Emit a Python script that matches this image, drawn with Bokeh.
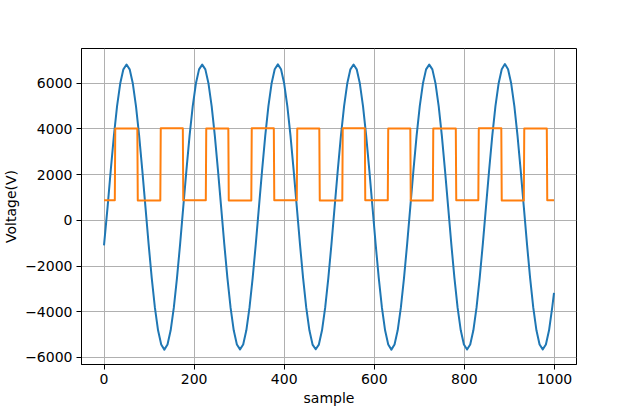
from bokeh.plotting import figure
from bokeh.models import Range1d
from bokeh.embed import file_html
from bokeh.resources import INLINE

# ---- data ----
sample_x = [
    0, 8, 15, 22, 29, 36, 43, 50, 57, 64, 71, 78, 85, 92, 99, 106, 113, 120, 127, 134, 141, 148, 155, 162,
    169, 176, 183, 190, 197, 204, 211, 218, 225, 232, 239, 246, 253, 260, 267, 274, 281, 288, 295, 302, 309, 316, 323, 330,
    337, 344, 351, 358, 365, 372, 379, 386, 393, 400, 407, 414, 421, 428, 435, 442, 449, 456, 463, 470, 477, 484, 491, 498,
    505, 512, 519, 526, 533, 540, 547, 554, 561, 568, 575, 582, 589, 596, 603, 610, 617, 624, 631, 638, 645, 652, 659, 666,
    673, 680, 687, 694, 701, 708, 715, 722, 729, 736, 743, 750, 757, 764, 771, 778, 785, 792, 799, 806, 813, 820, 827, 834,
    841, 848, 855, 862, 869, 876, 883, 890, 897, 904, 911, 918, 925, 932, 939, 946, 953, 960, 967, 974, 981, 988, 995, 999,
]
sine_voltage = [
    -1100, 585, 2199, 3703, 4994, 5985, 6608, 6820, 6608, 5985, 4994, 3703, 2199, 585, -1029, -2533, -3824, -4815, -5438, -5660, -5438, -4815, -3824, -2533,
    -1029, 585, 2199, 3703, 4994, 5985, 6605, 6815, 6605, 5985, 4994, 3703, 2199, 585, -1029, -2533, -3824, -4815, -5438, -5650, -5438, -4815, -3824, -2533,
    -1029, 585, 2199, 3703, 4994, 5985, 6610, 6825, 6610, 5985, 4994, 3703, 2199, 585, -1029, -2533, -3824, -4815, -5438, -5645, -5438, -4815, -3824, -2533,
    -1029, 585, 2199, 3703, 4994, 5985, 6608, 6820, 6608, 5985, 4994, 3703, 2199, 585, -1029, -2533, -3824, -4815, -5438, -5660, -5438, -4815, -3824, -2533,
    -1029, 585, 2199, 3703, 4994, 5985, 6605, 6815, 6605, 5985, 4994, 3703, 2199, 585, -1029, -2533, -3824, -4815, -5438, -5655, -5438, -4815, -3824, -2533,
    -1029, 585, 2199, 3703, 4994, 5985, 6615, 6840, 6615, 5985, 4994, 3703, 2199, 585, -1029, -2533, -3824, -4815, -5438, -5650, -5438, -4815, -3824, -3180,
]
square_x = [
    0, 24, 25, 74, 75, 125, 126, 175, 176, 226, 227, 276, 277, 327, 328, 377, 378, 428, 429, 478, 479,
    529, 530, 579, 580, 630, 631, 680, 681, 730, 731, 781, 782, 831, 832, 882, 883, 932, 933, 983, 984, 999,
]
square_voltage = [
    877, 877, 4020, 4020, 870, 870, 4025, 4025, 875, 875, 4015, 4015, 872, 872, 4030, 4030, 878, 878, 4020, 4020, 870,
    870, 4025, 4025, 875, 875, 4020, 4020, 872, 872, 4015, 4015, 877, 877, 4025, 4025, 870, 870, 4020, 4020, 875, 875,
]
x_ticks = [0, 200, 400, 600, 800, 1000]
y_ticks = [-6000, -4000, -2000, 0, 2000, 4000, 6000]
y_tick_labels = ["\u22126000", "\u22124000", "\u22122000", "0", "2000", "4000", "6000"]

FONT = "DejaVu Sans"

p = figure(
    width=640, height=409, output_backend="svg", toolbar_location=None,
    x_range=Range1d(-49.95, 1048.95), y_range=Range1d(-6310, 7520),
    min_border_left=80, min_border_right=64, min_border_top=48, min_border_bottom=45,
)
p.background_fill_color = "white"
p.border_fill_color = "white"
p.outline_line_color = "black"
p.outline_line_width = 1

p.line(sample_x, sine_voltage, line_color="#1f77b4", line_width=2, line_join="round")
p.line(square_x, square_voltage, line_color="#ff7f0e", line_width=2, line_join="round")

p.xaxis.ticker = x_ticks
p.yaxis.ticker = y_ticks
p.yaxis.major_label_overrides = dict(zip(y_ticks, y_tick_labels))
p.xaxis.axis_label = "sample"
p.yaxis.axis_label = "Voltage(V)"

for ax in (p.xaxis[0], p.yaxis[0]):
    ax.major_tick_out = 5
    ax.major_tick_in = 0
    ax.minor_tick_out = 0
    ax.minor_tick_in = 0
    ax.axis_line_color = "black"
    ax.major_tick_line_color = "black"
    ax.major_label_text_font = FONT
    ax.major_label_text_font_size = "14px"
    ax.major_label_text_color = "black"
    ax.major_label_standoff = 4
    ax.axis_label_text_font = FONT
    ax.axis_label_text_font_size = "14px"
    ax.axis_label_text_font_style = "normal"
    ax.axis_label_text_color = "black"
    ax.axis_label_standoff = 3

for g in (p.xgrid[0], p.ygrid[0]):
    g.grid_line_color = "#b0b0b0"
    g.grid_line_width = 1

open("out.html", "w").write(file_html(p, INLINE))
